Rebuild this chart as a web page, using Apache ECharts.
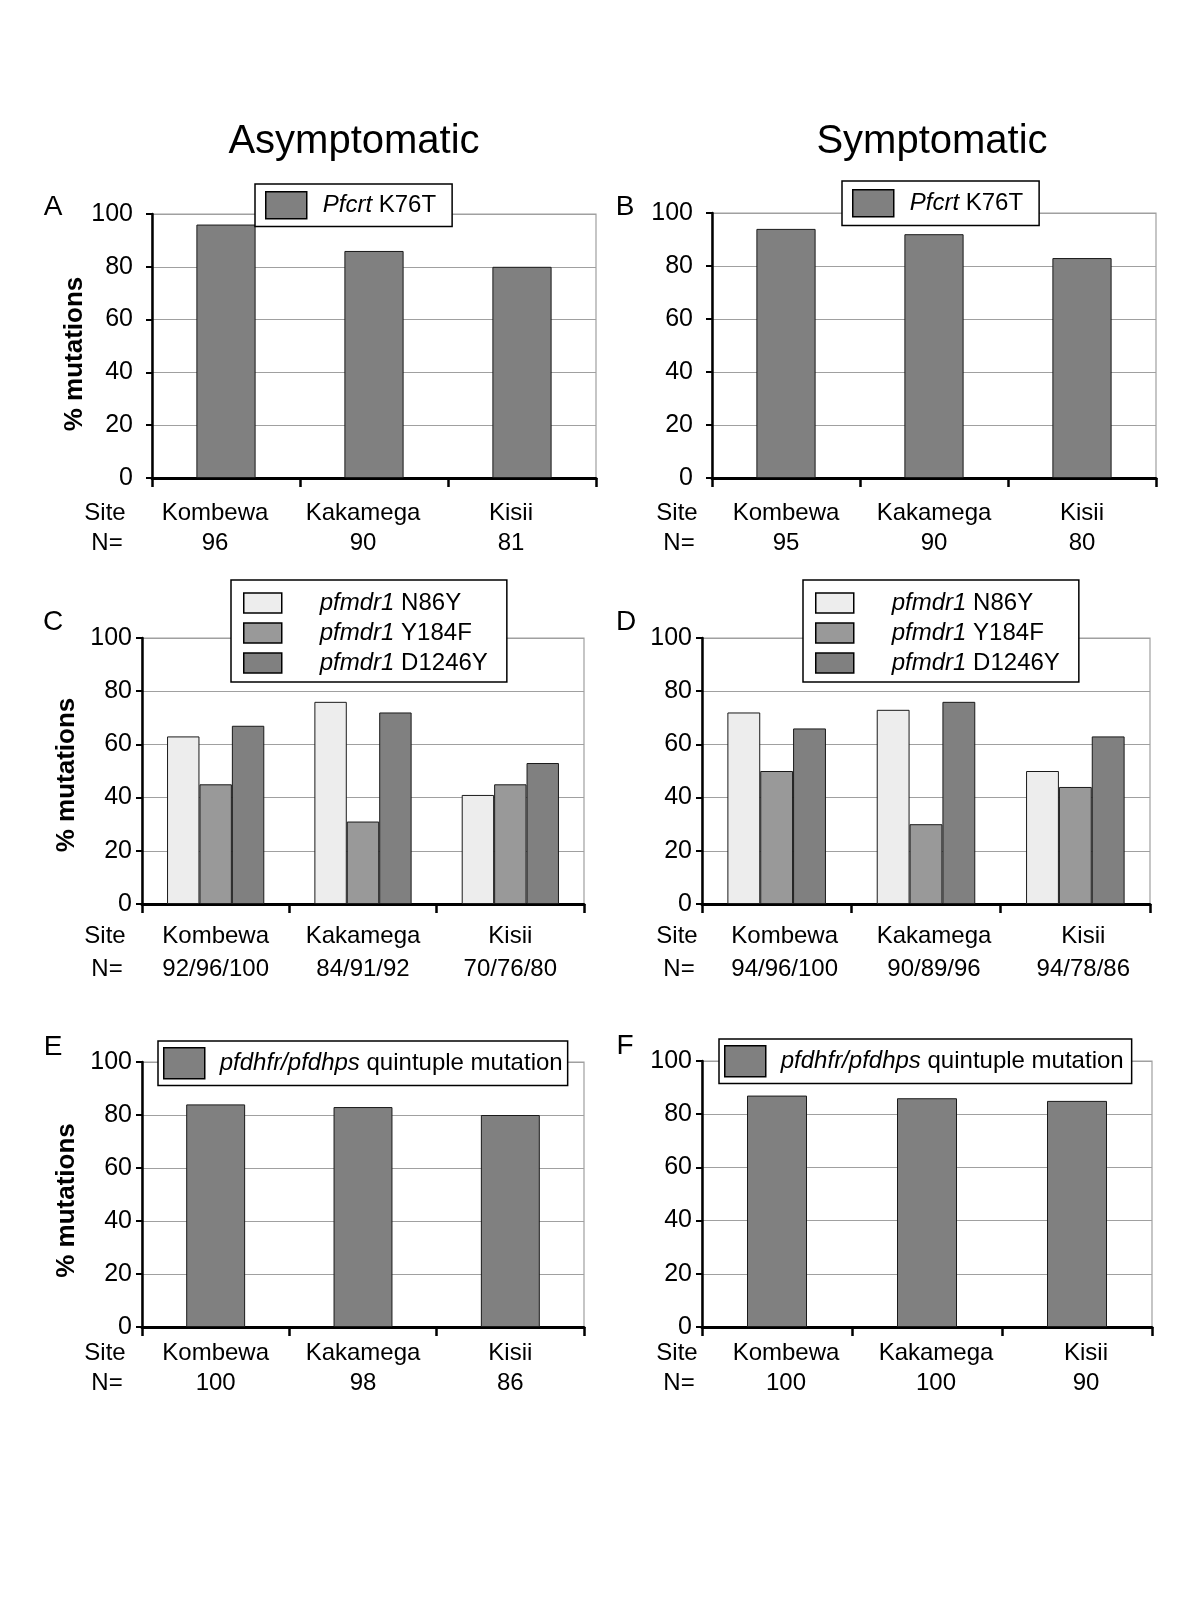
<!DOCTYPE html>
<html>
<head>
<meta charset="utf-8">
<script src="https://cdn.jsdelivr.net/npm/echarts@6/dist/echarts.min.js"></script>
<style>html,body{margin:0;padding:0;background:#fff}#c{width:1200px;height:1600px}</style>
</head>
<body>
<div id="c"></div>
<script>
// ---------- data ----------
const sites = ['Kombewa', 'Kakamega', 'Kisii'];
const yTicks = [0, 20, 40, 60, 80, 100];

const nA = ['96', '90', '81'];
const nB = ['95', '90', '80'];
const nC = ['92/96/100', '84/91/92', '70/76/80'];
const nD = ['94/96/100', '90/89/96', '94/78/86'];
const nE = ['100', '98', '86'];
const nF = ['100', '100', '90'];

const pfcrtAsym = [96, 86, 80];
const pfcrtSym = [94, 92, 83];

const n86yAsym = [63, 76, 41];
const y184fAsym = [45, 31, 45];
const d1246yAsym = [67, 72, 53];

const n86ySym = [72, 73, 50];
const y184fSym = [50, 30, 44];
const d1246ySym = [66, 76, 63];

const quintAsym = [84, 83, 80];
const quintSym = [87, 86, 85];

const columnTitles = ['Asymptomatic', 'Symptomatic'];
const panelLetters = ['A', 'B', 'C', 'D', 'E', 'F'];
const rowLabelSite = 'Site';
const rowLabelN = 'N=';
const yAxisTitle = '% mutations';

// ---------- styling / layout ----------
const FONT = '"Liberation Sans", Arial, Helvetica, sans-serif';
const GRAY = '#808080';
const legendLabels = {
  'Pfcrt K76T': '{p|}{i|Pfcrt} K76T',
  'pfmdr1 N86Y': '{p|}{i|pfmdr1} N86Y',
  'pfmdr1 Y184F': '{p|}{i|pfmdr1} Y184F',
  'pfmdr1 D1246Y': '{p|}{i|pfmdr1} D1246Y',
  'pfdhfr/pfdhps quintuple mutation': '{p|}{i|pfdhfr/pfdhps} quintuple mutation'
};

const panels = [
  { l: 152, t: 214, r: 596, b: 478, n: nA, yName: true, namePad: [0, 16, 0, 0], yMargin: 19, margin: 20, lh: 30, lblPad: [0, 22, 0, 0],
    series: [{ name: 'Pfcrt K76T', data: pfcrtAsym, color: GRAY }],
    legend: { left: 255, top: 184, iw: 41, ih: 27, pad: [7, 16, 7, 10], p: 11 },
    letter: [53, 207], site: [105, 513], nlab: [107, 543] },
  { l: 712, t: 213, r: 1156, b: 478, n: nB, yName: false, yMargin: 19, margin: 20, lh: 30, lblPad: [0, 0, 0, 0],
    series: [{ name: 'Pfcrt K76T', data: pfcrtSym, color: GRAY }],
    legend: { left: 842, top: 181, iw: 41, ih: 27, pad: [8, 16, 8, 10], p: 11 },
    letter: [625, 207], site: [677, 513], nlab: [679, 543] },
  { l: 142, t: 638, r: 584, b: 904, n: nC, yName: true, namePad: [0, 8, 0, 0], yMargin: 10, margin: 16, lh: 33, lblPad: [0, 0, 0, 0],
    series: [
      { name: 'pfmdr1 N86Y', data: n86yAsym, color: '#ededed' },
      { name: 'pfmdr1 Y184F', data: y184fAsym, color: '#999999' },
      { name: 'pfmdr1 D1246Y', data: d1246yAsym, color: GRAY }],
    legend: { left: 231, top: 580, iw: 38, ih: 20, pad: [11, 19, 7, 12], p: 33, vertical: true },
    letter: [53, 622], site: [105, 936], nlab: [107, 969] },
  { l: 702, t: 638, r: 1150, b: 904, n: nD, yName: false, yMargin: 10, margin: 16, lh: 33, lblPad: [0, 0, 0, 16],
    series: [
      { name: 'pfmdr1 N86Y', data: n86ySym, color: '#ededed' },
      { name: 'pfmdr1 Y184F', data: y184fSym, color: '#999999' },
      { name: 'pfmdr1 D1246Y', data: d1246ySym, color: GRAY }],
    legend: { left: 803, top: 580, iw: 38, ih: 20, pad: [11, 19, 7, 12], p: 33, vertical: true },
    letter: [626, 622], site: [677, 936], nlab: [679, 969] },
  { l: 142, t: 1062, r: 584, b: 1327, n: nE, yName: true, namePad: [0, 12, 0, 0], yMargin: 10, margin: 11, lh: 30, lblPad: [0, 0, 0, 0],
    series: [{ name: 'pfdhfr/pfdhps quintuple mutation', data: quintAsym, color: GRAY }],
    legend: { left: 158, top: 1041, iw: 41, ih: 31, pad: [6, 5, 6, 5], p: 10 },
    letter: [53, 1047], site: [105, 1353], nlab: [107, 1383] },
  { l: 702, t: 1061, r: 1152, b: 1327, n: nF, yName: false, yMargin: 10, margin: 11, lh: 30, lblPad: [0, 0, 0, 18],
    series: [{ name: 'pfdhfr/pfdhps quintuple mutation', data: quintSym, color: GRAY }],
    legend: { left: 719, top: 1039, iw: 41, ih: 31, pad: [6, 8, 6, 5], p: 10 },
    letter: [625, 1046], site: [677, 1353], nlab: [679, 1383] }
];

const grid = [], xAxis = [], yAxis = [], series = [], legend = [], graphic = [];

graphic.push({ type: 'text', x: 354, y: 142, style: { text: columnTitles[0], font: '40px ' + FONT, fill: '#000', align: 'center', verticalAlign: 'middle' } });
graphic.push({ type: 'text', x: 932, y: 142, style: { text: columnTitles[1], font: '40px ' + FONT, fill: '#000', align: 'center', verticalAlign: 'middle' } });

panels.forEach((pn, k) => {
  grid.push({ left: pn.l, top: pn.t, width: pn.r - pn.l, height: pn.b - pn.t, show: true,
    borderColor: '#a0a0a0', borderWidth: 1.2, backgroundColor: 'transparent', containLabel: false });
  const nArr = pn.n;
  xAxis.push({ type: 'category', gridIndex: k, data: sites,
    axisLine: { show: true, lineStyle: { color: '#000', width: 3 } },
    axisTick: { show: true, length: 9, lineStyle: { color: '#000', width: 2.5 } },
    axisLabel: { interval: 0, color: '#000', fontSize: 24, fontFamily: FONT, margin: pn.margin, lineHeight: pn.lh,
      padding: pn.lblPad, formatter: (v, i) => v + '\n' + nArr[i] },
    splitLine: { show: false } });
  yAxis.push({ type: 'value', gridIndex: k, min: yTicks[0], max: yTicks[yTicks.length - 1], interval: yTicks[1] - yTicks[0],
    name: pn.yName ? yAxisTitle : '', nameLocation: 'middle', nameGap: 62, nameRotate: 90,
    nameTextStyle: { color: '#000', fontSize: 26, fontWeight: 'bold', fontFamily: FONT, padding: pn.namePad || 0 },
    axisLine: { show: true, lineStyle: { color: '#000', width: 2.5 } },
    axisTick: { show: true, length: 6, lineStyle: { color: '#000', width: 2 } },
    axisLabel: { color: '#000', fontSize: 25, fontFamily: FONT, margin: pn.yMargin },
    splitLine: { show: true, lineStyle: { color: '#a0a0a0', width: 1.2 } } });
  const multi = pn.series.length > 1;
  pn.series.forEach(s => {
    const o = { type: 'bar', name: s.name, xAxisIndex: k, yAxisIndex: k, data: s.data,
      itemStyle: { color: s.color, borderColor: '#1a1a1a', borderWidth: 1 },
      emphasis: { disabled: true }, animation: false };
    if (multi) { o.barGap = '0%'; o.barCategoryGap = '34%'; } else { o.barWidth = '40%'; }
    series.push(o);
  });
  const lg = pn.legend;
  legend.push({ left: lg.left, top: lg.top, orient: lg.vertical ? 'vertical' : 'horizontal',
    data: pn.series.map(s => s.name), itemWidth: lg.iw, itemHeight: lg.ih, itemGap: 6,
    padding: lg.pad, backgroundColor: '#fff', borderColor: '#000', borderWidth: 1.5,
    icon: 'rect', selectedMode: false, z: 10,
    itemStyle: { borderColor: '#000', borderWidth: 1.5 },
    formatter: name => legendLabels[name] || name,
    textStyle: { color: '#000', fontSize: 24, fontFamily: FONT, lineHeight: 24,
      rich: { p: { width: lg.p }, i: { fontStyle: 'italic', fontSize: 24, fontFamily: FONT, color: '#000' } } } });
  graphic.push({ type: 'text', x: pn.letter[0], y: pn.letter[1], style: { text: panelLetters[k], font: '28px ' + FONT, fill: '#000', align: 'center', verticalAlign: 'middle' } });
  graphic.push({ type: 'text', x: pn.site[0], y: pn.site[1], style: { text: rowLabelSite, font: '24px ' + FONT, fill: '#000', align: 'center', verticalAlign: 'middle' } });
  graphic.push({ type: 'text', x: pn.nlab[0], y: pn.nlab[1], style: { text: rowLabelN, font: '24px ' + FONT, fill: '#000', align: 'center', verticalAlign: 'middle' } });
});

const chart = echarts.init(document.getElementById('c'), null, { renderer: 'canvas' });
chart.setOption({ backgroundColor: '#fff', animation: false, grid, xAxis, yAxis, series, legend, graphic });
</script>
</body>
</html>
